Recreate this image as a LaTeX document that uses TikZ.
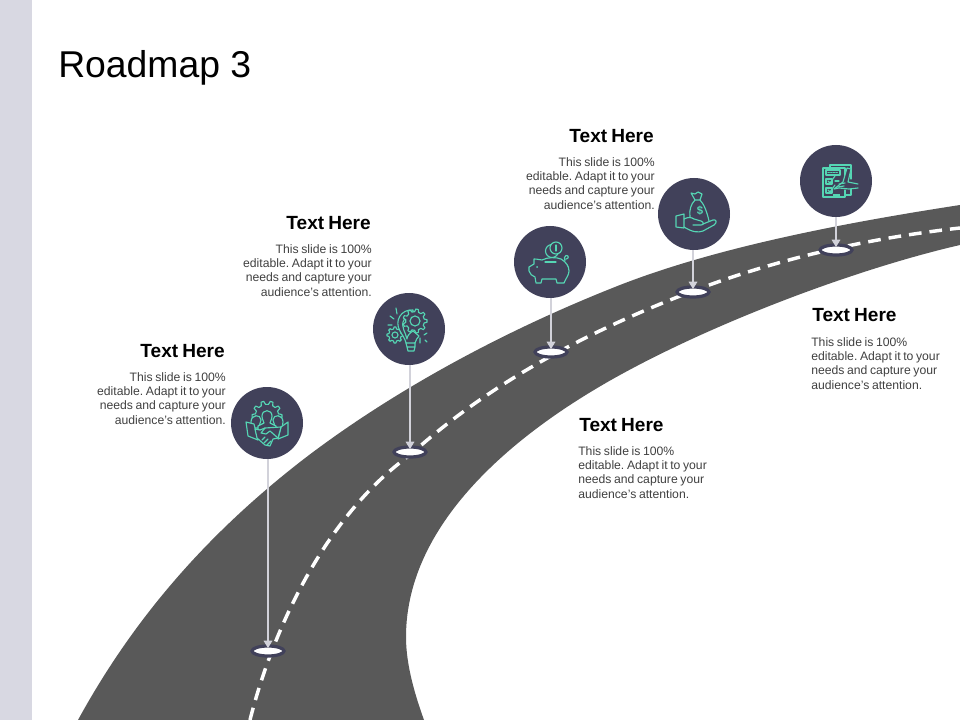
\documentclass[tikz,border=0pt]{standalone}
\usepackage{fontspec}
\setmainfont[WordSpace=0.78]{Liberation Sans}
\newfontfamily\titlefont{Liberation Sans}
\usetikzlibrary{shapes.geometric,arrows.meta}
\definecolor{barc}{HTML}{D8D8E2}
\definecolor{roadc}{HTML}{595959}
\definecolor{navyc}{HTML}{41415A}
\definecolor{tealc}{HTML}{55D6B4}
\definecolor{pinc}{HTML}{D2D2DA}
\definecolor{bodyc}{HTML}{404040}
\tikzset{
  x=0.75pt,y=-0.75pt,
  badge/.style={circle,fill=navyc,minimum size=54pt,inner sep=0pt},
  marker/.style={ellipse,fill=white,draw=navyc,line width=2.4pt,minimum width=24pt,minimum height=7.5pt,inner sep=0pt},
  pin/.style={draw=pinc,line width=0.8pt,-{Triangle[length=5.5pt,width=6.5pt]},shorten >=2.2pt},
  iconline/.style={draw=tealc,line width=0.85pt,line join=round,line cap=round},
  headl/.style={font=\fontsize{14.3}{16}\selectfont\bfseries,text=black,inner sep=0pt},
  bodyl/.style={font=\fontsize{9.15}{10.8}\selectfont\frenchspacing,text=bodyc,inner sep=0pt},
  dashline/.style={draw=white,line width=2.6pt,dash pattern=on 9.5pt off 6pt}
}
\newcommand\gearicon[4]{%
  \begin{scope}[shift={(#1,#2)}]
    \pgfmathsetmacro\gs{360/#4}
    \pgfmathsetmacro\gi{#3*0.78}
    \draw[iconline,fill=navyc] (-0.3*\gs:\gi) \foreach \k in {1,...,#4}{ -- ({(\k-1)*\gs-0.15*\gs}:#3) -- ({(\k-1)*\gs+0.15*\gs}:#3) -- ({(\k-1)*\gs+0.3*\gs}:\gi) -- ({\k*\gs-0.3*\gs}:\gi) } -- cycle;
  \end{scope}}
\begin{document}
\begin{tikzpicture}
\useasboundingbox (0,0) rectangle (960,720);
\fill[barc] (0,0) rectangle (32,720);
\node[anchor=west,font=\titlefont\fontsize{28}{32}\selectfont,text=black,inner sep=0pt] (title) at (58,68) {Roadmap 3};
% road
\fill[roadc] (78,720) .. controls (130,625) and (200,540) .. (300,462)
  .. controls (380,400) and (490,336) .. (620,285)
  .. controls (720,246) and (850,222) .. (960,205)
  -- (960,245)
  .. controls (860,268) and (720,320) .. (620,375)
  .. controls (520,430) and (406,520) .. (406,637)
  .. controls (406,665) and (415,695) .. (424,720) -- cycle;
\draw[dashline] (250,720) .. controls (270,640) and (320,520) .. (410,455)
  .. controls (480,392) and (570,338) .. (693,291)
  .. controls (780,258) and (870,238) .. (960,228);
% markers
\node[marker] (m1) at (268,651) {};
\node[marker] (m2) at (410,452) {};
\node[marker] (m3) at (551,352) {};
\node[marker] (m4) at (693,292) {};
\node[marker] (m5) at (836,250) {};
% badges
\node[badge] (c1) at (267,423) {};
\node[badge] (c2) at (409,329) {};
\node[badge] (c3) at (550,262) {};
\node[badge] (c4) at (694,214) {};
\node[badge] (c5) at (836,181) {};
% pins
\draw[pin] (m1 |- c1.south) -- (m1.center);
\draw[pin] (m2 |- c2.south) -- (m2.center);
\draw[pin] (m3 |- c3.south) -- (m3.center);
\draw[pin] (m4 |- c4.south) -- (m4.center);
\draw[pin] (m5 |- c5.south) -- (m5.center);
% icon 1: handshake and team
\begin{scope}[shift={(c1.center)}]
  \gearicon{0}{-7}{15}{10}
  % side people
  \draw[iconline,fill=navyc] (-15,5) -- (-16,-1) .. controls (-16,-9) and (-6,-9) .. (-6,-3) .. controls (-6,0) and (-8,1) .. (-8,3) -- (-5,5) -- cycle;
  \draw[iconline,fill=navyc] (15,5) -- (16,-1) .. controls (16,-9) and (6,-9) .. (6,-3) .. controls (6,0) and (8,1) .. (8,3) -- (5,5) -- cycle;
  % centre person
  \draw[iconline,fill=navyc] (-5,-7) .. controls (-5,-14) and (5,-14) .. (5,-7) .. controls (5,-3) and (3,-2) .. (3,0) -- (9,3) -- (9,7) -- (-9,7) -- (-9,3) -- (-3,0) .. controls (-3,-2) and (-5,-3) .. (-5,-7) -- cycle;
  % cuffs
  \draw[iconline,fill=navyc] (-21,-1) -- (-13,1) -- (-9,17) -- (-19,13) -- cycle;
  \draw[iconline,fill=navyc] (14,4) -- (21,-1) -- (21,12) -- (11,16) -- cycle;
  % clasped hands
  \draw[iconline,fill=navyc] (-12,6) -- (-7,7) -- (-2,5) -- (14,4) -- (11,15) -- (6,16) -- (3,23) -- (-2,22) -- (-10,15) -- cycle;
  \draw[iconline] (-2,5) -- (-6,10) -- (-1,11) -- (3,8) -- (11,15);
  \draw[iconline] (-5,17) -- (-2,14) (-3,20) -- (1,16) (0,22) -- (4,18);
\end{scope}
% icon 2: bulb with gears
\begin{scope}[shift={(c2.center)}]
  \gearicon{-14}{6}{8}{8}
  \draw[iconline] (-14,6) circle (3);
  \draw[iconline,fill=navyc] (4,-19) .. controls (-8,-20) and (-15,-8) .. (-9,2) .. controls (-7,6) and (-4,9) .. (-3,14) -- (6,14) .. controls (7,11) and (8,9) .. (10,7) -- (4,2) .. controls (0,4) and (-2,8) .. (-2,10) .. controls (-3,4) and (-9,-3) .. (-5,-9) .. controls (-3,-12) and (0,-14) .. (4,-14) -- cycle;
  \gearicon{6}{-8}{12}{9}
  \draw[iconline] (6,-8) circle (5);
  \draw[iconline] (-3,14) -- (-2,18) -- (6,18) -- (6,14) (-2,18) -- (-1,22) -- (5,22) -- (6,18);
  \draw[iconline] (-19,-13) -- (-15,-10) (-13,-21) -- (-12,-15) (-21,-4) -- (-17,-4);
  \draw[iconline] (15,6) -- (18,4) (11,9) -- (11,14) (16,11) -- (18,13);
\end{scope}
% icon 3: piggy bank
\begin{scope}[shift={(c3.center)}]
  \draw[iconline] (-16,2) -- (-16,-3) .. controls (-12,-3) and (-10,-2) .. (-8,-2) .. controls (-2,-5) and (6,-5) .. (11,-3) .. controls (16,0) and (19,4) .. (19,9) .. controls (19,13) and (16,16) .. (14,21) -- (7,21) -- (6,17) -- (-8,17) -- (-9,21) -- (-14,21) -- (-15,15) .. controls (-18,14) and (-20,12) .. (-21,9) -- (-21,5) -- (-16,2) -- cycle;
  \draw[iconline] (-5,0) -- (6,0);
  \fill[tealc] (-13,5) circle (1);
  \draw[iconline] (15,-1) .. controls (14,-3) and (14,-6) .. (16,-6.5) .. controls (19,-7) and (19,-3) .. (16,-3);
  \draw[iconline] (2,-11) circle (6.5);
  \draw[iconline,fill=navyc] (6,-14) circle (6);
  \draw[iconline] (6,-17) -- (6,-11);
\end{scope}
% icon 4: hand with money bag
\begin{scope}[shift={(c4.center)}]
  \draw[iconline] (1,-14) -- (-3,-21) -- (1,-20) -- (4,-22) -- (8,-20) -- (6,-14) -- cycle;
  \draw[iconline] (1,-14) .. controls (-3,-10) and (-5,-4) .. (-4,3);
  \draw[iconline] (6,-14) .. controls (10,-10) and (13,-2) .. (15,7);
  \node[text=tealc,font=\fontsize{8.5}{8.5}\selectfont\bfseries,inner sep=0pt] (dollar) at (6,-3) {\$};
  \draw[iconline] (-18,2) -- (-10,0) -- (-10,14) -- (-18,13) -- cycle;
  \draw[iconline] (-10,5) .. controls (-6,3) and (-3,3) .. (0,5) -- (7,7) .. controls (10,8) and (10,11) .. (7,11) -- (-1,11);
  \draw[iconline] (9,10) -- (19,6) .. controls (23,5) and (23,9) .. (20,11) -- (9,17) .. controls (4,19) and (-2,18) .. (-10,13);
\end{scope}
% icon 5: checklist and hand
\begin{scope}[shift={(c5.center)}]
  \draw[iconline] (-6,-13) -- (-6,-16) -- (15,-16) -- (15,-2);
  \draw[iconline] (15,8) -- (15,14) -- (9,14);
  \draw[iconline] (-13,-13) -- (9,-13) -- (9,-2);
  \draw[iconline] (-13,-13) -- (-13,16) -- (9,16) -- (9,9);
  \draw[iconline] (-10,-11) rectangle (4,-6);
  \draw[iconline,dash pattern=on 1pt off 1pt] (-8,-8.5) -- (2,-8.5);
  \draw[iconline] (-10,-2) rectangle (-4,3) (-10,7) rectangle (-4,12);
  \draw[iconline] (-8,0) -- (-6,2) -- (-1,-5) (-8,9) -- (-6,11) -- (-1,4);
  \draw[iconline] (-1,0) -- (3,0);
  \draw[line width=1.6pt,draw=tealc] (-3,14) -- (4,14);
  \draw[iconline,fill=navyc] (7,1) -- (11,-13) -- (15,-12) -- (12,1) -- (22,3) (22,7) -- (13,8) -- (3,7) -- (-2,8) -- (7,1);
  \draw[iconline] (3,3) -- (9,2) (2,6) -- (8,5);
\end{scope}
% texts
\node[headl,anchor=east] (h1) at (225,351) {Text Here};
\node[bodyl,align=right,anchor=north east] (b1) at (226,372) {This slide is 100\%\\editable. Adapt it to your\\needs and capture your\\audience's attention.};
\node[headl,anchor=east] (h2) at (371,223) {Text Here};
\node[bodyl,align=right,anchor=north east] (b2) at (372,244) {This slide is 100\%\\editable. Adapt it to your\\needs and capture your\\audience's attention.};
\node[headl,anchor=east] (h3) at (654,136) {Text Here};
\node[bodyl,align=right,anchor=north east] (b3) at (655,157) {This slide is 100\%\\editable. Adapt it to your\\needs and capture your\\audience's attention.};
\node[headl,anchor=west] (h4) at (579,425) {Text Here};
\node[bodyl,align=left,anchor=north west] (b4) at (578,446) {This slide is 100\%\\editable. Adapt it to your\\needs and capture your\\audience's attention.};
\node[headl,anchor=west] (h5) at (812,315) {Text Here};
\node[bodyl,align=left,anchor=north west] (b5) at (811,337) {This slide is 100\%\\editable. Adapt it to your\\needs and capture your\\audience's attention.};
\end{tikzpicture}
\end{document}
